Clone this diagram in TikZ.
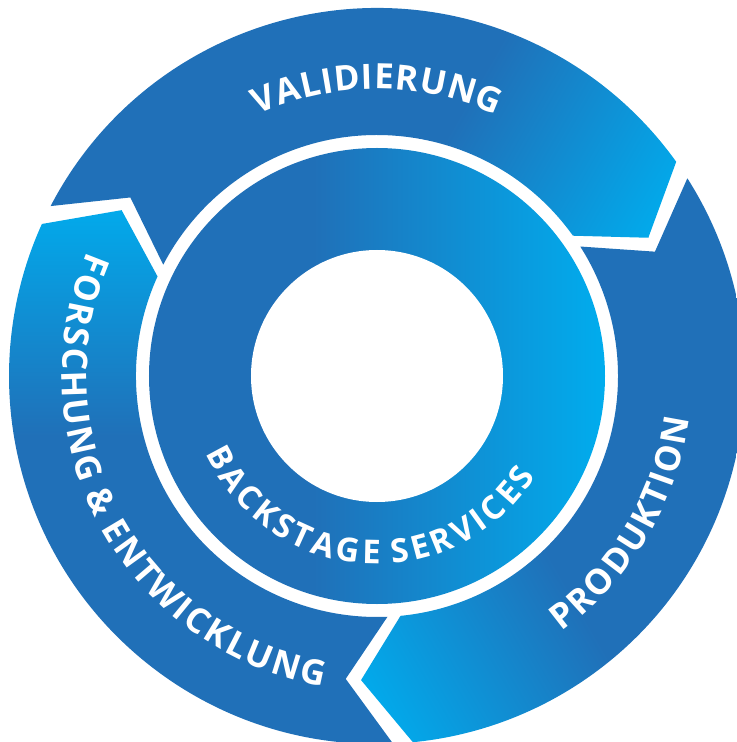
\documentclass[tikz,border=0pt]{standalone}
\usepackage{fontspec}
\setmainfont{Open Sans}
\newdimen\trk
\newcommand\tk{\kern\trk}
\usetikzlibrary{decorations.text}
\definecolor{dkb}{RGB}{32,112,184}
\definecolor{cyb}{RGB}{0,173,238}
\pgfdeclareverticalshading{segshade}{100bp}{color(0bp)=(dkb); color(46.25bp)=(dkb); color(61.25bp)=(cyb); color(100bp)=(cyb)}
\pgfdeclareverticalshading{ringshade}{100bp}{color(0bp)=(dkb); color(46bp)=(dkb); color(64.4bp)=(cyb); color(100bp)=(cyb)}
\tikzset{
  segp/.style={insert path={
    ({#1+122.5}:368) arc[start angle={#1+122.5}, end angle={#1+5.6}, radius=368]
    -- ({#1-3}:304.5) -- ({#1+5.6}:241)
    arc[start angle={#1+5.6}, end angle={#1+122.5}, radius=241]
    -- ({#1+114.1}:304.5) -- cycle}},
  lbl/.style={decorate, decoration={text along path, text={#1}, text align=center, text color=white}}
}
\begin{document}
\begin{tikzpicture}[x=1bp,y=1bp]
\useasboundingbox (-377,-366) rectangle (360,376);
% outer segments
\begin{scope}\clip[segp=30];
\shade[shading=segshade, shading angle=-120] (-400,-400) rectangle (400,400);
\end{scope}
\begin{scope}\clip[segp=-90];
\shade[shading=segshade, shading angle=120] (-400,-400) rectangle (400,400);
\end{scope}
\begin{scope}\clip[segp=150];
\shade[shading=segshade, shading angle=0] (-400,-400) rectangle (400,400);
\end{scope}
% inner ring
\begin{scope}\clip (0,0) circle[radius=228];
\shade[shading=ringshade, shading angle=-90] (-400,-400) rectangle (400,400);
\end{scope}
\fill[white] (0,0) circle[radius=126];
% labels
\path[lbl={|\bfseries\fontsize{35}{36}\selectfont\trk=0.8bp|{V\tk}{A\tk}{L\tk}{I\tk}{D\tk}{I\tk}{E\tk}{R\tk}{U\tk}{N\tk}G}]
  (150:287) arc[start angle=150, end angle=30, radius=287];
\path[lbl={|\bfseries\fontsize{35}{36}\selectfont\trk=2.2bp|{P\tk}{R\tk}{O\tk}{D\tk}{U\tk}{K\tk}{T\tk}{I\tk}{O\tk}N}]
  (-91:315) arc[start angle=-91, end angle=29, radius=315];
\path[lbl={|\bfseries\fontsize{35}{36}\selectfont\trk=2.4bp|{F\tk}{O\tk}{R\tk}{S\tk}{C\tk}{H\tk}{U\tk}{N\tk}{G\tk} {\&\tk} {E\tk}{N\tk}{T\tk}{W\tk}{I\tk}{C\tk}{K\tk}{L\tk}{U\tk}{N\tk}G}]
  (148.5:315) arc[start angle=148.5, end angle=268.5, radius=315];
\path[lbl={|\bfseries\fontsize{33}{34}\selectfont\trk=3.7bp|{B\tk}{A\tk}{C\tk}{K\tk}{S\tk}{T\tk}{A\tk}{G\tk}{E\tk} {S\tk}{E\tk}{R\tk}{V\tk}{I\tk}{C\tk}{E\tk}S}]
  (176:188) arc[start angle=176, end angle=356, radius=188];
\end{tikzpicture}
\end{document}
